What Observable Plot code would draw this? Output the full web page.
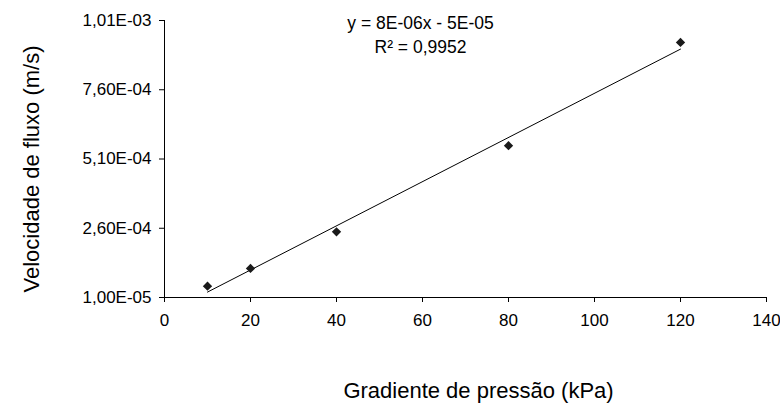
<!DOCTYPE html>
<html><head><meta charset="utf-8">
<script src="https://cdn.jsdelivr.net/npm/d3@7"></script>
<script src="https://cdn.jsdelivr.net/npm/@observablehq/plot@0.6"></script>
<style>body{margin:0;background:#fff;} svg{display:block;}</style>
</head><body><div id="chart"></div>
<script>
const gradient = [10, 20, 40, 80, 120];
const velocity = [5.1e-5, 1.15e-4, 2.47e-4, 5.58e-4, 9.31e-4];
const xTicks = [0, 20, 40, 60, 80, 100, 120, 140];
const yTicks = [1e-5, 2.6e-4, 5.1e-4, 7.6e-4, 1.01e-3];
const equationLines = ["y = 8E-06x - 5E-05", "R² = 0,9952"];
const xLabel = "Gradiente de pressão (kPa)";
const yLabel = "Velocidade de fluxo (m/s)";

const data = gradient.map((g, i) => ({x: g, y: velocity[i]}));
const fmtE = v => {
  const [m, e] = v.toExponential(2).split("e");
  const n = +e;
  return m.replace(".", ",") + "E" + (n < 0 ? "-" : "+") + String(Math.abs(n)).padStart(2, "0");
};
const font = "'Liberation Sans', Arial, sans-serif";

const chart = Plot.plot({
  width: 780, height: 403,
  marginLeft: 164, marginRight: 14, marginTop: 20, marginBottom: 106,
  style: {fontFamily: font, fontSize: "17px", color: "#000", background: "#fff", overflow: "visible"},
  x: {domain: [0, 140], label: null},
  y: {domain: [1e-5, 1.01e-3], label: null},
  marks: [
    Plot.axisX({ticks: xTicks, tickSize: 5, tickPadding: 11, label: null, fontSize: 17}),
    Plot.axisY({ticks: yTicks, tickSize: 5, tickPadding: 8, tickFormat: fmtE, label: null, fontSize: 17}),
    Plot.ruleY([1e-5], {stroke: "#000"}),
    Plot.ruleX([0], {stroke: "#000"}),
    Plot.linearRegressionY(data, {x: "x", y: "y", ci: 0, stroke: "#000", strokeWidth: 1}),
    Plot.dot(data, {x: "x", y: "y", symbol: "diamond2", r: 4.2, fill: "#1a1a1a", stroke: "none"}),
    Plot.text([equationLines.join("\n")], {frameAnchor: "top", dx: -45, dy: -8, lineAnchor: "top", lineHeight: 1.35, fontSize: 17.5, fill: "#000"}),
    Plot.text([xLabel], {frameAnchor: "bottom", dy: 100, lineAnchor: "bottom", fontSize: 22, dx: 13, fill: "#000"}),
    Plot.text([yLabel], {frameAnchor: "left", textAnchor: "middle", rotate: -90, dx: -126, dy: 10, lineAnchor: "bottom", fontSize: 22, fill: "#000"})
  ]
});
document.getElementById("chart").appendChild(chart);
</script>
</body></html>
